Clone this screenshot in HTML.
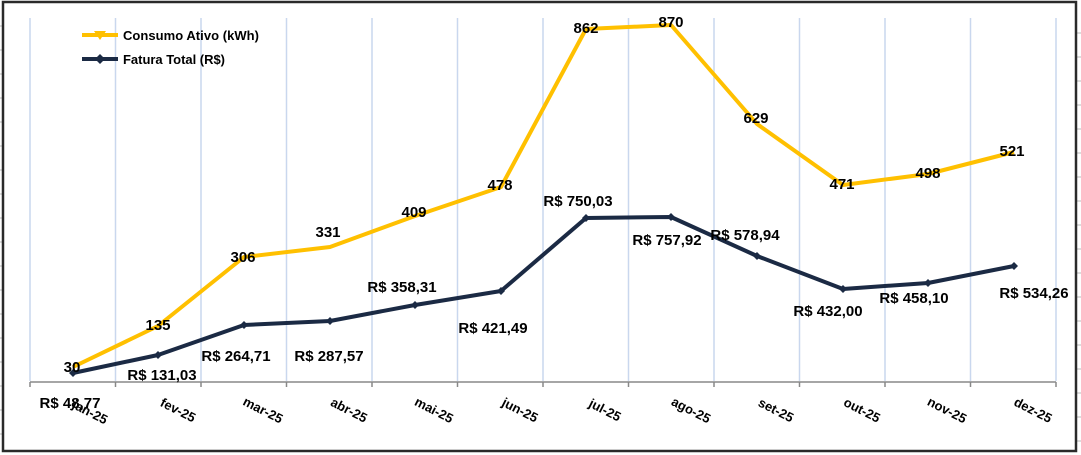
<!DOCTYPE html>
<html><head><meta charset="utf-8"><style>
html,body{margin:0;padding:0;background:#fff;width:1081px;height:455px;overflow:hidden}
svg{display:block}
text{font-family:"Liberation Sans",sans-serif;font-weight:bold;fill:#000}
</style></head><body>
<svg width="1081" height="455" viewBox="0 0 1081 455">
<rect x="0" y="0" width="1081" height="455" fill="#fff"/>
<g stroke="#bbb" stroke-width="1">
<line x1="0" y1="26" x2="3" y2="26"/><line x1="0" y1="50" x2="3" y2="50"/><line x1="0" y1="74" x2="3" y2="74"/><line x1="0" y1="98" x2="3" y2="98"/><line x1="0" y1="122" x2="3" y2="122"/><line x1="0" y1="146" x2="3" y2="146"/><line x1="0" y1="170" x2="3" y2="170"/><line x1="0" y1="194" x2="3" y2="194"/><line x1="0" y1="218" x2="3" y2="218"/><line x1="0" y1="242" x2="3" y2="242"/><line x1="0" y1="266" x2="3" y2="266"/><line x1="0" y1="290" x2="3" y2="290"/><line x1="0" y1="314" x2="3" y2="314"/><line x1="0" y1="338" x2="3" y2="338"/><line x1="0" y1="362" x2="3" y2="362"/><line x1="0" y1="386" x2="3" y2="386"/><line x1="0" y1="410" x2="3" y2="410"/><line x1="0" y1="434" x2="3" y2="434"/>
<line x1="1077" y1="33" x2="1081" y2="33"/><line x1="1077" y1="57" x2="1081" y2="57"/><line x1="1077" y1="81" x2="1081" y2="81"/><line x1="1077" y1="105" x2="1081" y2="105"/><line x1="1077" y1="129" x2="1081" y2="129"/><line x1="1077" y1="153" x2="1081" y2="153"/><line x1="1077" y1="177" x2="1081" y2="177"/><line x1="1077" y1="201" x2="1081" y2="201"/><line x1="1077" y1="225" x2="1081" y2="225"/><line x1="1077" y1="249" x2="1081" y2="249"/><line x1="1077" y1="273" x2="1081" y2="273"/><line x1="1077" y1="297" x2="1081" y2="297"/><line x1="1077" y1="321" x2="1081" y2="321"/><line x1="1077" y1="345" x2="1081" y2="345"/><line x1="1077" y1="369" x2="1081" y2="369"/><line x1="1077" y1="393" x2="1081" y2="393"/><line x1="1077" y1="417" x2="1081" y2="417"/><line x1="1077" y1="441" x2="1081" y2="441"/>
</g>
<rect x="3" y="2" width="1073" height="449" fill="#fff" stroke="#2a2a2a" stroke-width="2.5"/>
<g stroke="#c9d7ee" stroke-width="1.5">
<line x1="30" y1="18" x2="30" y2="381"/><line x1="115.5" y1="18" x2="115.5" y2="381"/><line x1="201" y1="18" x2="201" y2="381"/><line x1="286.5" y1="18" x2="286.5" y2="381"/><line x1="372" y1="18" x2="372" y2="381"/><line x1="457.5" y1="18" x2="457.5" y2="381"/><line x1="543" y1="18" x2="543" y2="381"/><line x1="628.5" y1="18" x2="628.5" y2="381"/><line x1="714" y1="18" x2="714" y2="381"/><line x1="799.5" y1="18" x2="799.5" y2="381"/><line x1="885" y1="18" x2="885" y2="381"/><line x1="970.5" y1="18" x2="970.5" y2="381"/><line x1="1056" y1="18" x2="1056" y2="381"/>
</g>
<g stroke="#888" stroke-width="1.5">
<line x1="30" y1="382" x2="1056" y2="382"/>
<line x1="30" y1="382" x2="30" y2="387"/><line x1="115.5" y1="382" x2="115.5" y2="387"/><line x1="201" y1="382" x2="201" y2="387"/><line x1="286.5" y1="382" x2="286.5" y2="387"/><line x1="372" y1="382" x2="372" y2="387"/><line x1="457.5" y1="382" x2="457.5" y2="387"/><line x1="543" y1="382" x2="543" y2="387"/><line x1="628.5" y1="382" x2="628.5" y2="387"/><line x1="714" y1="382" x2="714" y2="387"/><line x1="799.5" y1="382" x2="799.5" y2="387"/><line x1="885" y1="382" x2="885" y2="387"/><line x1="970.5" y1="382" x2="970.5" y2="387"/><line x1="1056" y1="382" x2="1056" y2="387"/>
</g>
<line x1="82" y1="35" x2="118" y2="35" stroke="#FFC000" stroke-width="4"/>
<polygon points="94,31 106,31 100,40" fill="#FFC000"/>
<text x="123" y="40" font-size="13" textLength="136">Consumo Ativo (kWh)</text>
<line x1="82" y1="59" x2="118" y2="59" stroke="#1b2a44" stroke-width="4"/>
<polygon points="100,54 105,59 100,64 95,59" fill="#1b2a44"/>
<text x="123" y="64" font-size="13" textLength="102">Fatura Total (R$)</text>
<polyline fill="none" stroke="#FFC000" stroke-width="4" stroke-linejoin="round" points="73,367 158,326 244,257 330,247 415,216 501,187 586,29 671,25 757,124 843,185 928,174 1014,152"/>
<polyline fill="none" stroke="#1b2a44" stroke-width="4" stroke-linejoin="round" points="73,373 158,355 244,325 330,321 415,305 501,291 586,218 671,217 757,256 843,289 928,283 1014,266"/>
<g fill="#1b2a44">
<polygon points="73,369 77,373 73,377 69,373"/><polygon points="158,351 162,355 158,359 154,355"/><polygon points="244,321 248,325 244,329 240,325"/><polygon points="330,317 334,321 330,325 326,321"/><polygon points="415,301 419,305 415,309 411,305"/><polygon points="501,287 505,291 501,295 497,291"/><polygon points="586,214 590,218 586,222 582,218"/><polygon points="671,213 675,217 671,221 667,217"/><polygon points="757,252 761,256 757,260 753,256"/><polygon points="843,285 847,289 843,293 839,289"/><polygon points="928,279 932,283 928,287 924,283"/><polygon points="1014,262 1018,266 1014,270 1010,266"/>
</g>
<g font-size="15" text-anchor="middle">
<text x="72" y="372">30</text><text x="158" y="330">135</text><text x="243" y="262">306</text><text x="328" y="237">331</text><text x="414" y="217">409</text><text x="500" y="190">478</text><text x="586" y="33">862</text><text x="671" y="27">870</text><text x="756" y="123">629</text><text x="842" y="189">471</text><text x="928" y="178">498</text><text x="1012" y="156">521</text>
<text x="70" y="408">R$ 48,77</text><text x="162" y="380">R$ 131,03</text><text x="236" y="361">R$ 264,71</text><text x="329" y="361">R$ 287,57</text><text x="402" y="292">R$ 358,31</text><text x="493" y="333">R$ 421,49</text><text x="578" y="206">R$ 750,03</text><text x="667" y="245">R$ 757,92</text><text x="745" y="240">R$ 578,94</text><text x="828" y="316">R$ 432,00</text><text x="914" y="303">R$ 458,10</text><text x="1034" y="298">R$ 534,26</text>
</g>
<g font-size="13" text-anchor="middle">
<text transform="translate(88,416) rotate(27)">jan-25</text>
<text transform="translate(176,414) rotate(27)">fev-25</text>
<text transform="translate(261,414) rotate(27)">mar-25</text>
<text transform="translate(347,414) rotate(27)">abr-25</text>
<text transform="translate(432,414) rotate(27)">mai-25</text>
<text transform="translate(518,414) rotate(27)">jun-25</text>
<text transform="translate(603,414) rotate(27)">jul-25</text>
<text transform="translate(689,414) rotate(27)">ago-25</text>
<text transform="translate(774,414) rotate(27)">set-25</text>
<text transform="translate(860,414) rotate(27)">out-25</text>
<text transform="translate(945,414) rotate(27)">nov-25</text>
<text transform="translate(1031,414) rotate(27)">dez-25</text>
</g>
</svg>
</body></html>
